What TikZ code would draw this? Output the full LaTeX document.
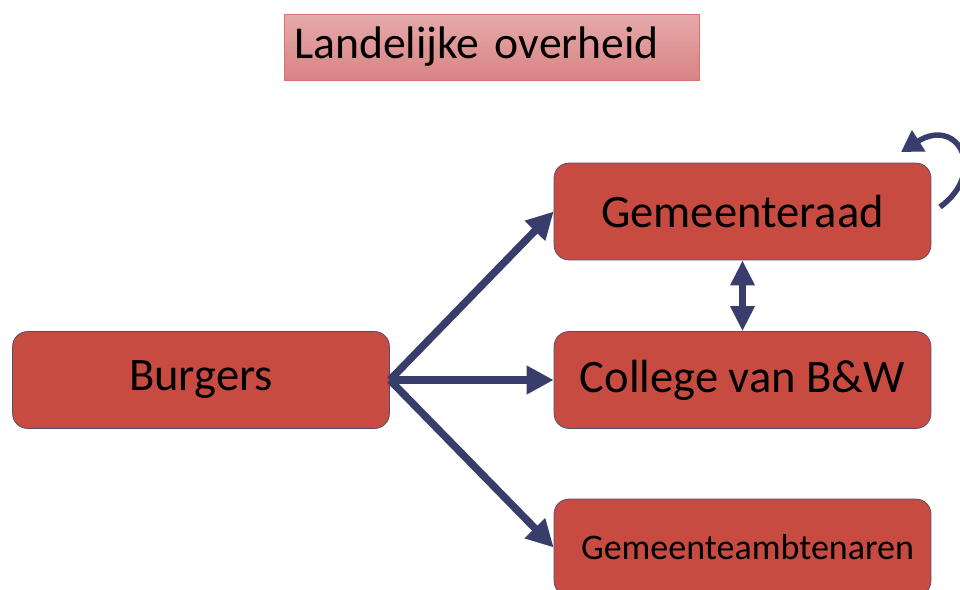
\documentclass[tikz,border=0pt]{standalone}
\usepackage{fontspec}
\setmainfont{Carlito}
\usetikzlibrary{arrows.meta,positioning}
\definecolor{boxred}{HTML}{C84B42}
\definecolor{boxline}{HTML}{4F4F6F}
\definecolor{arrowblue}{HTML}{383D6B}
\definecolor{pinktop}{HTML}{E6AAAA}
\definecolor{pinkbottom}{HTML}{D98383}
\definecolor{pinkline}{HTML}{D77272}
\begin{document}
\begin{tikzpicture}[x=0.02cm,y=-0.02cm,
  gemeente/.style={rectangle,rounded corners=0.3cm,draw=boxline,thin,fill=boxred,
    minimum width=7.54cm,minimum height=1.94cm,inner sep=0pt},
  pijl/.style={draw=arrowblue,line width=0.15cm,-{Triangle[width=0.54cm,length=0.54cm]}}]
\useasboundingbox (0,0) rectangle (960,589);
\clip (0,0) rectangle (960,589);
\node (land) [rectangle,draw=pinkline,top color=pinktop,bottom color=pinkbottom,
  minimum width=8.22cm,minimum height=1.32cm,text width=7.9cm,inner xsep=0.2cm,
  align=left,font=\fontsize{26}{30}\selectfont] at (491.5,47) {Landelijke overheid};
\node (raad) [gemeente,font=\fontsize{26.5}{30}\selectfont] at (742.5,211.5) {\raisebox{-1.5pt}{Gemeenteraad}};
\node (burgers) [gemeente,font=\fontsize{26.5}{30}\selectfont] at (201,380) {\raisebox{-2pt}{Burgers}};
\node (college) [gemeente,font=\fontsize{26.5}{30}\selectfont] at (742.5,380) {\raisebox{-2pt}{College van B\&W}};
\node (ambt) [gemeente,font=\fontsize{20.5}{24}\selectfont,text width=7.54cm,align=center,
  minimum height=1.94cm] at (742.5,547.5) {\hspace*{0.2cm}\raisebox{-1.5pt}{Gemeenteambtenaren}};
\draw [pijl] (burgers.east) -- (raad.west);
\draw [pijl] (burgers.east) -- (college.west);
\draw [pijl] (burgers.east) -- (ambt.west);
\draw [draw=arrowblue,line width=0.15cm,{Triangle[width=0.46cm,length=0.5cm]}-{Triangle[width=0.46cm,length=0.5cm]}]
  (raad.south) -- (college.north);
% terugkoppeling rechtsboven
\coordinate (lusstart) at (940,207);
\coordinate (luseind) at (901,152);
\draw [draw=arrowblue,line width=0.11cm,-{Triangle[width=0.48cm,length=0.42cm]}]
  (lusstart) .. controls (988,172) and (958,116) .. (luseind);
\end{tikzpicture}
\end{document}
